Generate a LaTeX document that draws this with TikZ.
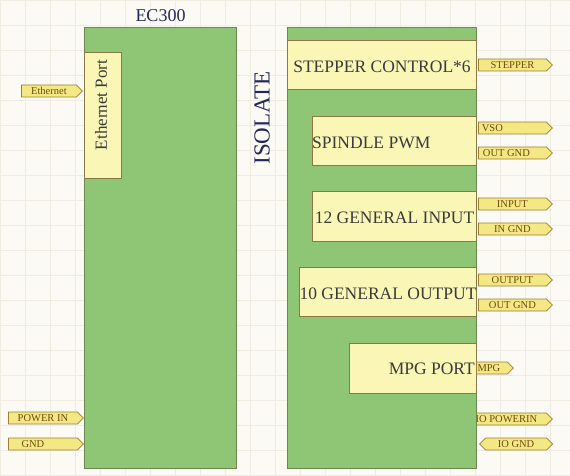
\documentclass[tikz,border=0pt]{standalone}
\usepackage{fontspec}
\setmainfont{Liberation Serif}
\usetikzlibrary{positioning,shapes.symbols}

\definecolor{bgpaper}{HTML}{FCFAF5}
\definecolor{gridcol}{HTML}{F0ECE2}
\definecolor{blkgreen}{HTML}{8EC675}
\definecolor{blkline}{HTML}{6E8752}
\definecolor{subfill}{HTML}{FAF6B6}
\definecolor{subline}{HTML}{8A7846}
\definecolor{portfill}{HTML}{F4E884}
\definecolor{portline}{HTML}{A07C34}
\definecolor{porttext}{HTML}{6E4A0E}
\definecolor{labgray}{HTML}{3A3A3A}
\definecolor{navy}{HTML}{23285A}

\tikzset{
  blk/.style={draw=blkline, fill=blkgreen, line width=1pt, anchor=north west, inner sep=0pt},
  subbox/.style={draw=subline, fill=subfill, line width=1pt, anchor=north west, inner sep=0pt},
  sublab/.style={inner sep=0pt, text=labgray, font=\fontsize{17.5}{18}\selectfont},
  port/.style={signal, signal to=east, draw=portline, fill=portfill, line width=0.8pt,
    minimum height=12pt, minimum width=74pt, inner sep=0pt, anchor=west,
    text=porttext, font=\fontsize{10.5}{11}\selectfont},
  title/.style={text=navy, inner sep=0pt}
}

\begin{document}
\begin{tikzpicture}[x=1pt,y=-1pt]
  \useasboundingbox (0,0) rectangle (570,476);
  \fill[bgpaper] (0,0) rectangle (570,476);
  \draw[gridcol, step=25pt] (0,0) grid (570,476);

  % ports that sit under the right block
  \node[port, minimum width=86pt] (iopwr) at (466,419) {IO POWERIN};

  % main blocks
  \node[blk, minimum width=152pt, minimum height=441pt] (ec) at (84,27) {};
  \node[blk, minimum width=189pt, minimum height=441pt] (iso) at (287,27) {};
  \node[title, font=\fontsize{18}{18}\selectfont, above=5pt of ec.north] (ectitle) {EC300};
  \node[title, font=\fontsize{23}{23}\selectfont, rotate=90] (isotitle) at (262,118) {ISOLATE};

  % left side
  \node[subbox, minimum width=37pt, minimum height=126pt] (eth) at (84,52) {};
  \node[sublab, font=\fontsize{17}{17}\selectfont, rotate=90] (ethlab) at (101,105) {Ethernet Port};
  \node[port, minimum width=61pt] (ethport) at (21,91) {Ethernet};
  \node[port, minimum width=75pt] (pwrin) at (8,418) {POWER IN};
  \node[port, minimum width=75pt] (gnd) at (8,444) {GND\hspace*{20pt}};

  % right side function boxes
  \node[subbox, minimum width=189pt, minimum height=49pt] (step6) at (287,40) {};
  \node[sublab, yshift=-2pt] at (step6.center) {STEPPER CONTROL*6};
  \node[subbox, minimum width=164pt, minimum height=49pt] (pwm) at (312,116) {};
  \node[sublab, anchor=west, yshift=-2pt] at (pwm.west) {SPINDLE PWM};
  \node[subbox, minimum width=164pt, minimum height=50pt] (gin) at (312,191) {};
  \node[sublab, yshift=-1pt] at (gin.center) {12 GENERAL INPUT};
  \node[subbox, minimum width=177pt, minimum height=49pt] (gout) at (299,267) {};
  \node[sublab, yshift=-2pt] at (gout.center) {10 GENERAL OUTPUT};
  \node[subbox, minimum width=127pt, minimum height=50pt] (mpg) at (349,343) {};
  \node[sublab, anchor=east, xshift=-2pt] at (mpg.east) {MPG PORT};

  % right side ports
  \node[port] (stepper) at (478,65) {STEPPER};
  \node[port] (vso) at (478,128) {VSO\hspace*{40pt}};
  \node[port] (outgnda) at (478,153) {OUT GND\hspace*{12pt}};
  \node[port] (input) at (478,204) {INPUT};
  \node[port] (ingnd) at (478,229) {IN GND};
  \node[port] (output) at (478,280) {OUTPUT};
  \node[port] (outgndb) at (478,305) {OUT GND};
  \node[port, minimum width=37pt] (mpgport) at (476,368) {MPG\hspace*{6pt}};
  \node[port, signal to=east and west, minimum width=73pt] (iognd) at (479,444) {IO GND};
\end{tikzpicture}
\end{document}
